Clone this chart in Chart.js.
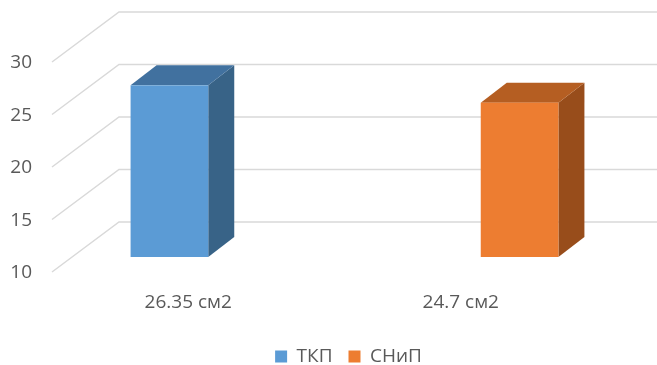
<!DOCTYPE html>
<html>
<head>
<meta charset="utf-8">
<script src="https://cdn.jsdelivr.net/npm/chart.js@4.4.1/dist/chart.umd.min.js"></script>
<style>
  html, body { margin: 0; padding: 0; background: #fff; }
  #wrap { width: 657px; height: 365px; }
</style>
</head>
<body>
<div id="wrap"><canvas id="c" width="657" height="365"></canvas></div>
<script>
// --- data ---
const categories = ['26.35 см2', '24.7 см2'];
const seriesNames = ['ТКП', 'СНиП'];
const tkpValues = [26.35, null];
const snipValues = [null, 24.7];
const yTicks = [10, 15, 20, 25, 30];

// face colours: front, top, side
const faces = [
    { front: '#5B9BD5', top: '#41719F', side: '#386387' },
    { front: '#ED7D31', top: '#B55E22', side: '#984D1B' }
];

// 3D look (pixels)
const WALL_DX = 67, WALL_DY = -50;   // front plane -> back wall
const BAR_DX = 20, BAR_DY = -15;     // front plane -> bar front face
const DEPTH_DX = 26, DEPTH_DY = -20; // bar depth
const TICK_RIGHT = 32;               // right edge of the value labels

const font = { family: "'Open Sans', sans-serif", size: 19 };

const wallPlugin = {
    id: 'wall3d',
    beforeDatasetsDraw(chart) {
        const ctx = chart.ctx, y = chart.scales.y, area = chart.chartArea;
        ctx.save();
        ctx.strokeStyle = '#D9D9D9';
        ctx.lineWidth = 1.5;
        yTicks.forEach(v => {
            const py = y.getPixelForValue(v);
            ctx.beginPath();
            ctx.moveTo(area.left, py);
            ctx.lineTo(area.left + WALL_DX, py + WALL_DY);
            ctx.lineTo(chart.width, py + WALL_DY);
            ctx.stroke();
        });
        // value labels (the axis box is narrow, so they are drawn here)
        ctx.fillStyle = '#595959';
        ctx.font = font.size + 'px ' + font.family;
        ctx.textAlign = 'right';
        ctx.textBaseline = 'middle';
        y.ticks.forEach(t => {
            ctx.fillText(String(t.value), TICK_RIGHT, y.getPixelForValue(t.value) + 1);
        });
        ctx.restore();
    },
    afterDatasetsDraw(chart) {
        const ctx = chart.ctx, y = chart.scales.y;
        const basePx = y.getPixelForValue(y.min);
        ctx.save();
        chart.data.datasets.forEach((ds, i) => {
            const meta = chart.getDatasetMeta(i);
            const f = faces[i];
            meta.data.forEach((el, j) => {
                if (ds.data[j] == null) return;
                const p = el.getProps(['x', 'y', 'width'], true);
                const x0 = p.x - p.width / 2 + BAR_DX, x1 = p.x + p.width / 2 + BAR_DX;
                const yt = p.y + BAR_DY, yb = basePx + BAR_DY;
                // side
                ctx.fillStyle = f.side;
                ctx.beginPath();
                ctx.moveTo(x1, yt); ctx.lineTo(x1 + DEPTH_DX, yt + DEPTH_DY);
                ctx.lineTo(x1 + DEPTH_DX, yb + DEPTH_DY); ctx.lineTo(x1, yb);
                ctx.closePath(); ctx.fill();
                // top
                ctx.fillStyle = f.top;
                ctx.beginPath();
                ctx.moveTo(x0, yt); ctx.lineTo(x1, yt);
                ctx.lineTo(x1 + DEPTH_DX, yt + DEPTH_DY); ctx.lineTo(x0 + DEPTH_DX, yt + DEPTH_DY);
                ctx.closePath(); ctx.fill();
                // front
                ctx.fillStyle = f.front;
                ctx.fillRect(x0, yt, x1 - x0, yb - yt);
            });
        });
        ctx.restore();
    }
};

new Chart(document.getElementById('c'), {
    type: 'bar',
    data: {
        labels: categories,
        datasets: [
            // native bars are transparent, the plugin draws the 3D boxes
            { label: seriesNames[0], data: tkpValues, backgroundColor: 'rgba(0,0,0,0)', borderWidth: 0 },
            { label: seriesNames[1], data: snipValues, backgroundColor: 'rgba(0,0,0,0)', borderWidth: 0 }
        ]
    },
    options: {
        responsive: false,
        animation: false,
        events: [],
        categoryPercentage: 0.57,
        barPercentage: 1.0,
        layout: { padding: { top: 62, right: 0, left: 40, bottom: -11 } },
        scales: {
            x: {
                grid: { display: false },
                border: { display: false },
                ticks: { color: '#595959', font, padding: 11 },
                afterFit(s) { s.height = 59; }
            },
            y: {
                min: 10, max: 30,
                afterBuildTicks(s) { s.ticks = yTicks.map(v => ({ value: v })); },
                grid: { display: false },
                border: { display: false },
                ticks: { display: false },
                afterFit(s) { s.width = 12; }
            },
            // empty spacer on the right, keeps the legend centred like the original
            yr: {
                position: 'right',
                grid: { display: false },
                border: { display: false },
                ticks: { display: false },
                afterFit(s) { s.width = 60; }
            }
        },
        plugins: {
            legend: {
                position: 'bottom',
                labels: {
                    color: '#595959', font, boxWidth: 12, boxHeight: 12, padding: 16,
                    generateLabels(chart) {
                        return chart.data.datasets.map((ds, i) => ({
                            text: ds.label, fillStyle: faces[i].front, strokeStyle: faces[i].front,
                            lineWidth: 0, fontColor: '#595959', datasetIndex: i
                        }));
                    }
                }
            },
            tooltip: { enabled: false }
        }
    },
    plugins: [wallPlugin]
});
</script>
</body>
</html>
